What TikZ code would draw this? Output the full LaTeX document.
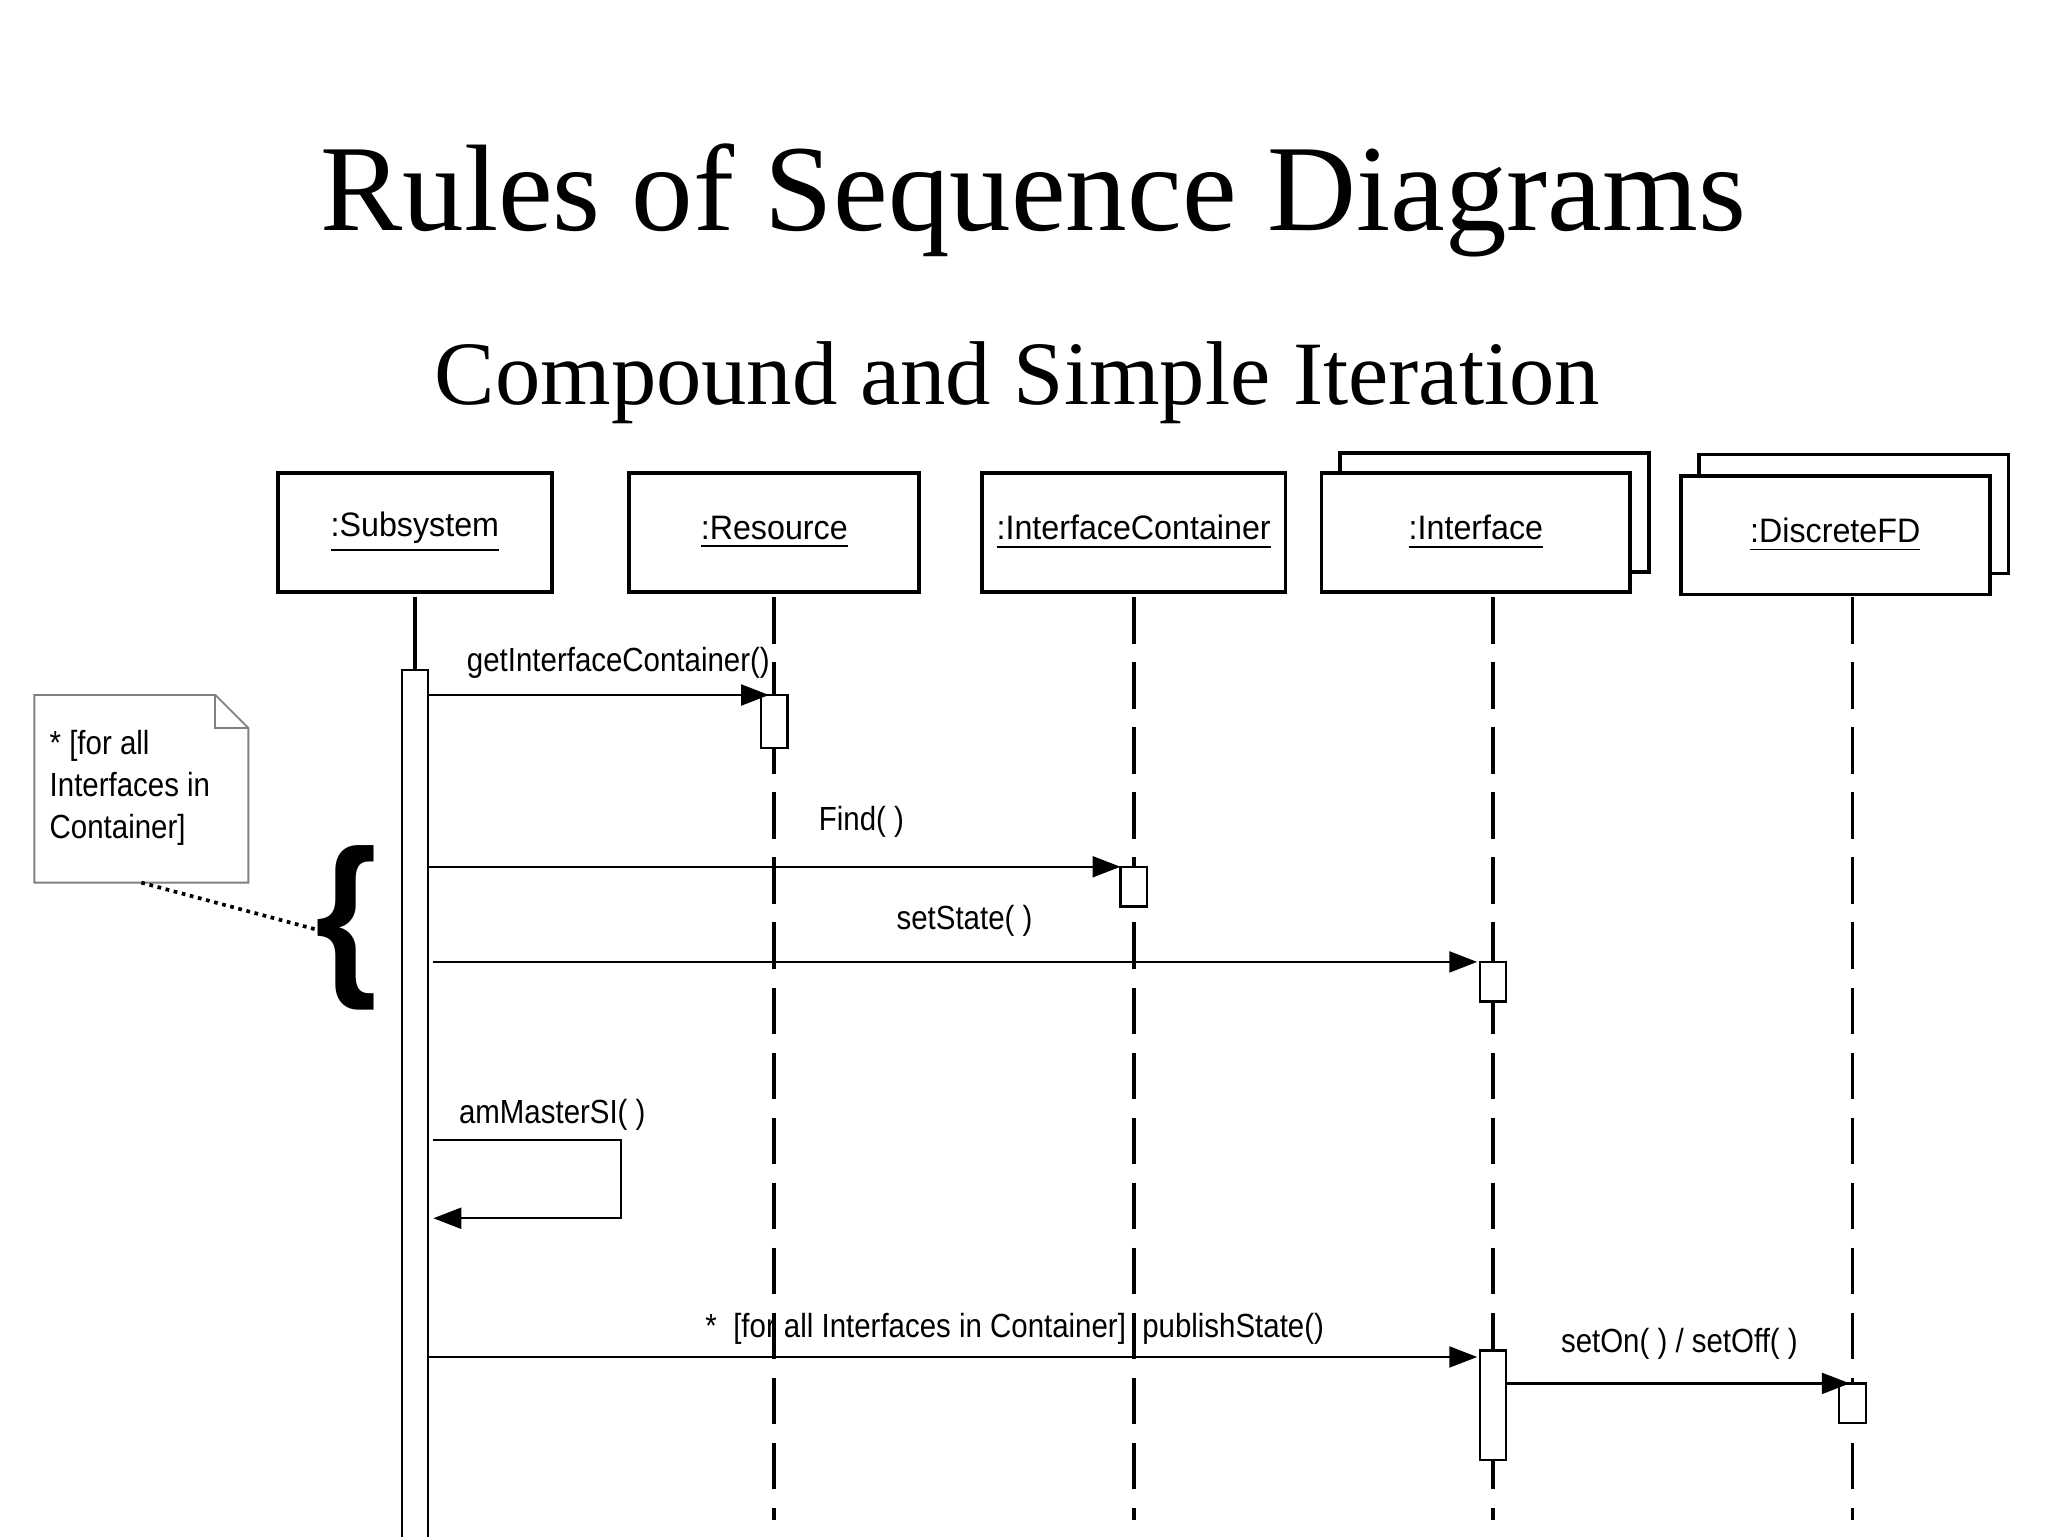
\documentclass[tikz,border=0pt]{standalone}
\usepackage{fontspec}
\setmainfont{Liberation Serif}
\newfontfamily\lab{Liberation Sans}
\usetikzlibrary{arrows.meta,shapes.misc}
\begin{document}
\begin{tikzpicture}[x=0.01cm,y=-0.01cm,
 obj/.style={draw,thick,minimum width=#1*0.01cm,minimum height=0.9cm,fill=white,font=\lab\fontsize{7.3}{9}\selectfont,xscale=0.95},
 txt/.style={font=\lab\fontsize{7.2}{9}\selectfont,xscale=0.88,inner sep=0},
 life/.style={thick,dash pattern=on 10pt off 4pt},
 act/.style={draw,fill=white,line width=0.5pt},
 msg/.style={line width=0.5pt,-{Triangle[length=6pt,width=4.5pt]}}]
\useasboundingbox (0,0) rectangle (1550,1162.5);
\node[font=\fontsize{26.5}{30}\selectfont] (t1) at (782,152) {Rules of Sequence Diagrams};
\node[font=\fontsize{19.5}{24}\selectfont] (t2) at (770,290) {Compound and Simple Iteration};
% shadows
\draw[thick,fill=white] (1014,343) rectangle (1248,433);
\draw[thick,fill=white] (1286,344) rectangle (1520,434);
\node[obj=218] (s) at (314,403) {\underline{:Subsystem}};
\node[obj=231] (r) at (586,403) {\underline{:Resource}};
\node[obj=232] (c) at (858,403) {\underline{:InterfaceContainer}};
\node[obj=246] (i) at (1117,403) {\underline{:Interface}};
\node[obj=246] (d) at (1389,405) {\underline{:DiscreteFD}};
% lifelines
\draw[thick] (314,452) -- (314,507);
\draw[life] (586,452) -- (586,1150);
\draw[life] (858,452) -- (858,1150);
\draw[life] (1130,452) -- (1130,1150);
\draw[life] (1402,452) -- (1402,1150);
% activations
\draw[act] (304,507) rectangle (324,1165);
\draw[act] (576,526) rectangle (596,566);
\draw[act] (848,656) rectangle (868,686);
\draw[act] (1120,728) rectangle (1140,758);
\draw[act] (1120,1022) rectangle (1140,1105);
\draw[act] (1392,1047) rectangle (1412,1077);
\coordinate (m1a) at (324,526); \coordinate (m1b) at (582,526);
\draw[msg] (m1a) -- (m1b);
\node[txt] (l1) at (468,502) {getInterfaceContainer()};
\coordinate (m2a) at (324,656); \coordinate (m2b) at (848,656);
\draw[msg] (m2a) -- (m2b);
\node[txt] (l2) at (652,622) {Find( )};
\coordinate (m3a) at (328,728); \coordinate (m3b) at (1118,728);
\draw[msg] (m3a) -- (m3b);
\node[txt] (l3) at (730,697) {setState( )};
\coordinate (m4a) at (328,863); \coordinate (m4b) at (470,863);
\coordinate (m4c) at (470,922); \coordinate (m4d) at (328,922);
\draw[msg] (m4a) -- (m4b) -- (m4c) -- (m4d);
\node[txt] (l4) at (418,844) {amMasterSI( )};
\coordinate (m5a) at (324,1027); \coordinate (m5b) at (1118,1027);
\draw[msg] (m5a) -- (m5b);
\node[txt] (l5) at (768,1006) {*~~[for all Interfaces in Container]~~publishState()};
\coordinate (m6a) at (1140,1047); \coordinate (m6b) at (1400,1047);
\draw[msg] (m6a) -- (m6b);
\node[txt] (l6) at (1271,1017) {setOn( ) / setOff( )};
% note
\draw[gray,fill=white] (26,526) -- (163,526) -- (188,551) -- (188,668) -- (26,668) -- cycle;
\draw[gray] (163,526) -- (163,551) -- (188,551);
\node[font=\lab\fontsize{7.2}{9}\selectfont,xscale=0.88,inner sep=0,align=left,anchor=north west] (n) at (37,552) {* [for all\\Interfaces in\\Container]};
\node[font=\lab\bfseries\fontsize{38}{40}\selectfont,inner sep=0,xscale=0.9] (b) at (262,702) {\{};
\coordinate (nb) at (107,668); \coordinate (bb) at (245,705);
\draw[densely dotted,thick] (nb) -- (bb);
\end{tikzpicture}
\end{document}
